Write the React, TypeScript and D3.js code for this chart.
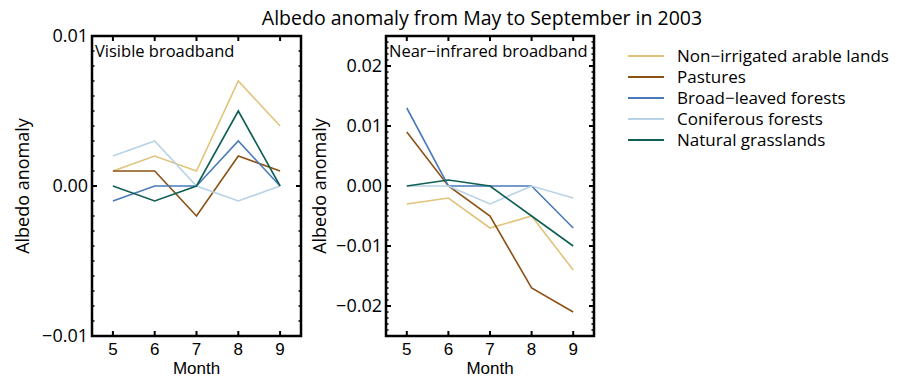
import React from "react";
import * as d3 from "d3";

const months = [5, 6, 7, 8, 9];
const seriesNames = [
  "Non−irrigated arable lands",
  "Pastures",
  "Broad−leaved forests",
  "Coniferous forests",
  "Natural grasslands",
];
const seriesColors = ["#dfc47a", "#8c5115", "#4a7aba", "#b8d2e6", "#0f5f55"];

const visNonIrrigated = [0.001, 0.002, 0.001, 0.007, 0.004];
const visPastures = [0.001, 0.001, -0.002, 0.002, 0.001];
const visBroadleaved = [-0.001, 0, 0, 0.003, 0];
const visConiferous = [0.002, 0.003, 0, -0.001, 0];
const visGrasslands = [0, -0.001, 0, 0.005, 0];

const nirNonIrrigated = [-0.003, -0.002, -0.007, -0.005, -0.014];
const nirPastures = [0.009, 0, -0.005, -0.017, -0.021];
const nirBroadleaved = [0.013, 0, 0, 0, -0.007];
const nirConiferous = [0, 0, -0.003, 0, -0.002];
const nirGrasslands = [0, 0.001, 0, -0.005, -0.01];

const visTicks = [-0.01, 0, 0.01];
const visTickLabels = ["−0.01", "0.00", "0.01"];
const nirTicks = [-0.02, -0.01, 0, 0.01, 0.02];
const nirTickLabels = ["−0.02", "−0.01", "0.00", "0.01", "0.02"];

const FONT = "'Open Sans', 'Noto Sans', sans-serif";
const FONT_TIGHT = "'Liberation Sans', Arial, sans-serif";

type PanelProps = {
  left: number;
  right: number;
  top: number;
  bottom: number;
  yDomain: [number, number];
  ticks: number[];
  tickLabels: string[];
  minorStep: number;
  series: number[][];
  label: string;
  yLabelX: number;
};

function Panel(p: PanelProps) {
  const x = d3.scaleLinear().domain([4.5, 9.5]).range([p.left, p.right]);
  const y = d3.scaleLinear().domain(p.yDomain).range([p.bottom, p.top]);
  const line = d3
    .line<number>()
    .x((_, i) => x(months[i]))
    .y((d) => y(d));
  const minor: number[] = [];
  const n = Math.round((p.yDomain[1] - p.yDomain[0]) / p.minorStep);
  for (let i = 0; i <= n; i++) minor.push(p.yDomain[0] + i * p.minorStep);
  const majLen = 5;
  const minLen = 2.5;
  return (
    <g>
      {p.series.map((s, i) => (
        <path key={i} d={line(s) || ""} fill="none" stroke={seriesColors[i]} strokeWidth={1.6} />
      ))}
      {minor.map((v, i) => (
        <g key={"m" + i} stroke="#000" strokeWidth={1.5}>
          <line x1={p.left} x2={p.left + minLen} y1={y(v)} y2={y(v)} />
          <line x1={p.right} x2={p.right - minLen} y1={y(v)} y2={y(v)} />
        </g>
      ))}
      {p.ticks.map((v, i) => (
        <g key={"t" + i}>
          <line x1={p.left} x2={p.left + majLen} y1={y(v)} y2={y(v)} stroke="#000" strokeWidth={2} />
          <line x1={p.right} x2={p.right - majLen} y1={y(v)} y2={y(v)} stroke="#000" strokeWidth={2} />
          <text x={p.left - 4} y={y(v)} dy="0.35em" textAnchor="end" fontSize={18} fontFamily={FONT}>
            {p.tickLabels[i]}
          </text>
        </g>
      ))}
      {months.map((m) => (
        <g key={"x" + m}>
          <line x1={x(m)} x2={x(m)} y1={p.bottom} y2={p.bottom - majLen} stroke="#000" strokeWidth={2} />
          <line x1={x(m)} x2={x(m)} y1={p.top} y2={p.top + majLen} stroke="#000" strokeWidth={2} />
          <text x={x(m)} y={p.bottom + 19} textAnchor="middle" fontSize={17} fontFamily={FONT_TIGHT}>
            {m}
          </text>
        </g>
      ))}
      <rect
        x={p.left}
        y={p.top}
        width={p.right - p.left}
        height={p.bottom - p.top}
        fill="none"
        stroke="#000"
        strokeWidth={2.5}
      />
      <text x={p.left + 3} y={p.top + 21} fontSize={16.5} fontFamily={FONT}>
        {p.label}
      </text>
      <text
        x={(p.left + p.right) / 2}
        y={p.bottom + 37.5}
        textAnchor="middle"
        fontSize={17}
        fontFamily={FONT_TIGHT}
      >
        Month
      </text>
      <text
        transform={`translate(${p.yLabelX},${(p.top + p.bottom) / 2}) rotate(-90)`}
        textAnchor="middle"
        fontSize={18}
        fontFamily={FONT}
      >
        Albedo anomaly
      </text>
    </g>
  );
}

export default function App() {
  const visSeries = [visNonIrrigated, visPastures, visBroadleaved, visConiferous, visGrasslands];
  const nirSeries = [nirNonIrrigated, nirPastures, nirBroadleaved, nirConiferous, nirGrasslands];
  return (
    <svg
      width={921}
      height={377}
      style={{ position: "absolute", left: 0, top: 0, background: "#fff" }}
    >
      <text x={482} y={25} textAnchor="middle" fontSize={19.5} fontFamily={FONT}>
        Albedo anomaly from May to September in 2003
      </text>
      <Panel
        left={92}
        right={301}
        top={36}
        bottom={336}
        yDomain={[-0.01, 0.01]}
        ticks={visTicks}
        tickLabels={visTickLabels}
        minorStep={0.001}
        series={visSeries}
        label="Visible broadband"
        yLabelX={29}
      />
      <Panel
        left={386}
        right={594}
        top={36}
        bottom={336}
        yDomain={[-0.025, 0.025]}
        ticks={nirTicks}
        tickLabels={nirTickLabels}
        minorStep={0.001}
        series={nirSeries}
        label="Near−infrared broadband"
        yLabelX={326}
      />
      {seriesNames.map((name, i) => (
        <g key={name}>
          <line x1={628} x2={664} y1={56 + i * 21} y2={56 + i * 21} stroke={seriesColors[i]} strokeWidth={2} />
          <text x={677} y={56 + i * 21} dy="0.35em" fontSize={17} fontFamily={FONT}>
            {name}
          </text>
        </g>
      ))}
    </svg>
  );
}
